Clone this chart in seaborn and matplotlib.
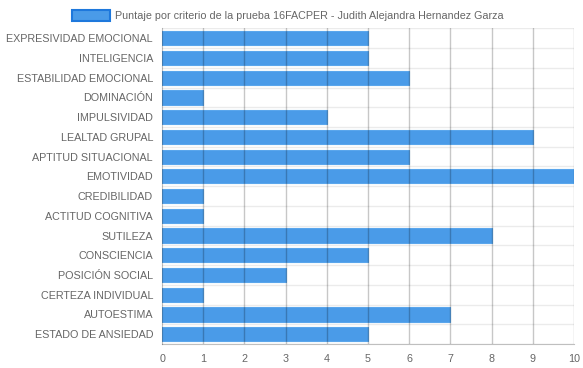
import matplotlib
matplotlib.use("Agg")
import matplotlib.pyplot as plt
from matplotlib.patches import Patch
import seaborn as sns
import pandas as pd

criterios = [
    "EXPRESIVIDAD EMOCIONAL", "INTELIGENCIA", "ESTABILIDAD EMOCIONAL", "DOMINACIÓN",
    "IMPULSIVIDAD", "LEALTAD GRUPAL", "APTITUD SITUACIONAL", "EMOTIVIDAD",
    "CREDIBILIDAD", "ACTITUD COGNITIVA", "SUTILEZA", "CONSCIENCIA",
    "POSICIÓN SOCIAL", "CERTEZA INDIVIDUAL", "AUTOESTIMA", "ESTADO DE ANSIEDAD",
]
puntajes = [5, 5, 6, 1, 4, 9, 6, 10, 1, 1, 8, 5, 3, 1, 7, 5]
ticks_x = [0, 1, 2, 3, 4, 5, 6, 7, 8, 9, 10]
titulo = "Puntaje por criterio de la prueba 16FACPER - Judith Alejandra Hernandez Garza"

df = pd.DataFrame({"criterio": criterios, "puntaje": puntajes})

sns.set_style("white")
plt.rcParams["font.family"] = ["Liberation Sans", "DejaVu Sans"]
fs = 7.75

fig = plt.figure(figsize=(5.83, 3.68), dpi=100)
ax = fig.add_axes([0.278, 0.065, 0.7066, 0.858])

sns.barplot(data=df, x="puntaje", y="criterio", orient="h", color="#4a9be8",
            saturation=1, width=0.72, edgecolor="#5aa6ec", linewidth=0.8, ax=ax)

ax.set_xlim(0, 10)
ax.set_xticks(ticks_x)
ax.set_ylim(15.5, -0.5)

# rejilla vertical por encima de las barras, horizontal entre categorias
ax.set_axisbelow(False)
for v in ticks_x[1:]:
    ax.axvline(v, color=(0, 0, 0, 0.22), lw=1, zorder=3)
for k in range(17):
    ax.axhline(k - 0.5, color=(0, 0, 0, 0.08), lw=1, zorder=0)

for s in ["top", "right"]:
    ax.spines[s].set_visible(False)
ax.spines["left"].set_color((0, 0, 0, 0.25))
ax.spines["bottom"].set_color((0, 0, 0, 0.25))

ax.set_xlabel("")
ax.set_ylabel("")
ax.tick_params(axis="x", length=6, width=1, color=(0, 0, 0, 0.22),
               labelsize=fs, labelcolor="#666666", pad=1)
ax.tick_params(axis="y", length=0, labelsize=fs, labelcolor="#666666", pad=6.5)
# marcas entre categorias en el eje y
ax.set_yticks([k - 0.5 for k in range(17)], minor=True)
ax.tick_params(axis="y", which="minor", length=7, width=1, color=(0, 0, 0, 0.08))

fig.legend(handles=[Patch(facecolor="#4a9be8", edgecolor="#1e78dc", linewidth=1.5)],
           labels=[titulo], loc="upper center", bbox_to_anchor=(0.494, 1.0),
           frameon=False, fontsize=fs, labelcolor="#666666",
           handlelength=3.5, handleheight=1.2, handletextpad=0.45)

fig.savefig("out.png", dpi=100)
